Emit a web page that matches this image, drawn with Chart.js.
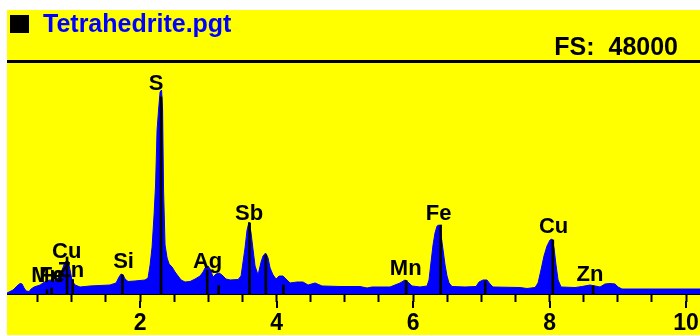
<!DOCTYPE html>
<html>
<head>
<meta charset="utf-8">
<title>Tetrahedrite.pgt</title>
<script src="https://cdn.jsdelivr.net/npm/chart.js@4.4.1/dist/chart.umd.min.js"></script>
<style>
  html, body { margin: 0; padding: 0; background: #fff; }
  #frame { position: absolute; left: 7px; top: 10px; width: 693px; height: 325px; background: #ffff00; overflow: hidden; }
  #frame canvas { position: absolute; left: 0; top: 0; }
  #mark { position: absolute; left: 3px; top: 5px; width: 19px; height: 18px; background: #000; }
  #name { position: absolute; left: 36px; top: 1px; font: bold 25px/25px "Liberation Sans", Arial, sans-serif; color: #0000ff; white-space: pre; }
  #fs { position: absolute; right: 22px; top: 24px; font: bold 25px/25px "Liberation Sans", Arial, sans-serif; color: #000; white-space: pre; }
  #rule { position: absolute; left: 0; top: 50px; width: 693px; height: 3px; background: #000; }
</style>
</head>
<body>
<div id="frame">
  <canvas id="spectrum" width="693" height="325"></canvas>
  <div id="mark"></div>
  <div id="name">Tetrahedrite.pgt</div>
  <div id="fs">FS:  48000</div>
  <div id="rule"></div>
</div>
<script>
// spectrum: energy in keV, counts (full scale 48000)
const energy = [
  0.051, 0.139, 0.183, 0.212, 0.242, 0.271, 0.300, 0.330, 0.374, 0.403,
  0.447, 0.491, 0.535, 0.579, 0.623, 0.681, 0.740, 0.799, 0.857, 0.901,
  0.945, 0.974, 1.004, 1.048, 1.121, 1.194, 1.267, 1.414, 1.560, 1.648,
  1.692, 1.722, 1.751, 1.780, 1.824, 1.927, 2.073, 2.117, 2.147, 2.176,
  2.205, 2.227, 2.249, 2.271, 2.293, 2.315, 2.330, 2.344, 2.366, 2.396,
  2.425, 2.469, 2.513, 2.557, 2.601, 2.659, 2.733, 2.806, 2.879, 2.923,
  2.952, 2.996, 3.026, 3.070, 3.114, 3.158, 3.201, 3.260, 3.319, 3.436,
  3.480, 3.509, 3.538, 3.568, 3.597, 3.626, 3.656, 3.685, 3.729, 3.773,
  3.802, 3.839, 3.875, 3.905, 3.949, 3.993, 4.037, 4.095, 4.139, 4.198,
  4.300, 4.388, 4.462, 4.564, 4.667, 4.930, 5.223, 5.326, 5.399, 5.663,
  5.736, 5.810, 5.883, 5.941, 5.985, 6.103, 6.205, 6.234, 6.264, 6.293,
  6.322, 6.352, 6.381, 6.410, 6.440, 6.469, 6.498, 6.527, 6.571, 6.762,
  6.923, 6.967, 7.026, 7.084, 7.128, 7.172, 7.568, 7.670, 7.788, 7.832,
  7.875, 7.919, 7.963, 8.007, 8.037, 8.066, 8.095, 8.125, 8.169, 8.374,
  8.476, 8.594, 8.667, 8.740, 8.813, 8.886, 8.960, 9.005, 9.062, 10.205
];
const counts = [
  210, 830, 1450, 1860, 2170, 2070, 1240, 620, 520, 1030,
  1450, 1660, 1860, 2280, 2690, 2900, 2690, 3310, 4970, 6620,
  6830, 4970, 2690, 1860, 1450, 1550, 1660, 1760, 1860, 2280,
  3520, 4140, 3930, 3100, 2590, 2690, 2900, 3310, 6000, 9720,
  16350, 22550, 33930, 38070, 41790, 42210, 38070, 21520, 10140, 7450,
  6210, 5590, 4550, 3720, 2900, 2480, 2590, 3100, 3720, 4550,
  5380, 5790, 5170, 3520, 4140, 4340, 3930, 3100, 2900, 3000,
  3720, 6620, 9520, 13240, 14900, 12620, 9100, 5790, 3930, 6620,
  7860, 8480, 7450, 5380, 3930, 3100, 3720, 3720, 3100, 2280,
  2480, 2480, 1860, 2280, 1660, 1550, 1550, 1240, 1450, 1450,
  1860, 2280, 2900, 2280, 1660, 1450, 1660, 2900, 6620, 10140,
  12620, 14070, 14280, 12210, 9100, 6000, 3720, 2280, 1550, 1450,
  1550, 2480, 2900, 2900, 2070, 1450, 1340, 1140, 1340, 2280,
  4970, 7860, 9930, 11170, 11380, 9520, 6000, 2900, 1450, 1340,
  1550, 1860, 1660, 1450, 2070, 2170, 2070, 1450, 1030, 1030
];

// element line markers
const markerEnergy = [0.637, 0.705, 0.930, 1.012, 1.740, 2.307, 2.984, 3.151, 3.605, 3.843, 4.101, 5.899, 6.404, 7.058, 8.048, 8.639];
const markerCounts = [900, 1240, 7660, 3000, 3930, 40760, 4970, 1760, 14690, 8070, 1860, 2790, 14280, 2690, 11170, 1660];

// peak labels
const labelText = ["Mn", "Fe", "Cu", "Zn", "Si", "S", "Ag", "Sb", "Mn", "Fe", "Cu", "Zn"];
const labelEnergy = [0.637, 0.711, 0.926, 0.986, 1.758, 2.234, 2.989, 3.597, 5.893, 6.374, 8.059, 8.593];
const labelCounts = [2480, 2480, 7450, 3520, 5380, 42210, 5380, 15310, 3930, 15310, 12620, 2690];

const majorTicks = [2, 4, 6, 8, 10];

const FONT = '"Liberation Sans", Arial, sans-serif';

const peakLabels = {
  id: "peakLabels",
  afterDatasetsDraw(chart) {
    const ctx = chart.ctx;
    const x = chart.scales.x;
    const y = chart.scales.y;
    ctx.save();
    ctx.font = "bold 22px " + FONT;
    ctx.fillStyle = "#000";
    ctx.textAlign = "center";
    ctx.textBaseline = "alphabetic";
    labelText.forEach(function (t, i) {
      ctx.fillText(t, x.getPixelForValue(labelEnergy[i]), y.getPixelForValue(labelCounts[i]));
    });
    ctx.restore();
  }
};

// major ticks are longer than the half-keV ones
const longTicks = {
  id: "longTicks",
  afterDraw(chart) {
    const ctx = chart.ctx;
    const x = chart.scales.x;
    ctx.save();
    ctx.fillStyle = "#000";
    majorTicks.forEach(function (v) {
      const px = Math.round(x.getPixelForValue(v));
      ctx.fillRect(px - 1, x.top + 7, 2, 7);
    });
    ctx.restore();
  }
};

new Chart(document.getElementById("spectrum"), {
  type: "line",
  data: {
    datasets: [
      {
        type: "bar",
        label: "Lines",
        data: markerEnergy.map((e, i) => ({ x: e, y: markerCounts[i] })),
        backgroundColor: "#000",
        barThickness: 2,
        order: 0
      },
      {
        type: "line",
        label: "Counts",
        data: energy.map((e, i) => ({ x: e, y: counts[i] })),
        borderColor: "#0000ff",
        borderWidth: 1,
        backgroundColor: "#0000ff",
        fill: "origin",
        pointRadius: 0,
        tension: 0,
        order: 1
      }
    ]
  },
  options: {
    responsive: false,
    animation: false,
    layout: { autoPadding: false, padding: { top: 52, left: 0, right: 0, bottom: 0 } },
    plugins: {
      legend: { display: false },
      tooltip: { enabled: false },
      title: { display: false }
    },
    scales: {
      x: {
        type: "linear",
        min: 0.05,
        max: 10.205,
        offset: false,
        afterFit: function (s) {
          s.height = 41;
          s.paddingLeft = 0;
          s.paddingRight = 0;
        },
        border: { display: true, color: "#000", width: 2 },
        grid: {
          display: true,
          drawOnChartArea: false,
          drawTicks: true,
          tickLength: 8,
          tickColor: "#000",
          tickWidth: 2,
          offset: false
        },
        ticks: {
          stepSize: 0.5,
          includeBounds: false,
          autoSkip: false,
          maxRotation: 0,
          padding: 8,
          color: "#000",
          font: { family: FONT, size: 23, weight: "bold" },
          callback: function (v) {
            const r = Math.round(v);
            return (Math.abs(v - r) < 1e-6 && majorTicks.includes(r)) ? String(r) : "";
          }
        }
      },
      y: { display: false, min: 0, max: 48000 }
    }
  },
  plugins: [peakLabels, longTicks]
});
</script>
</body>
</html>
